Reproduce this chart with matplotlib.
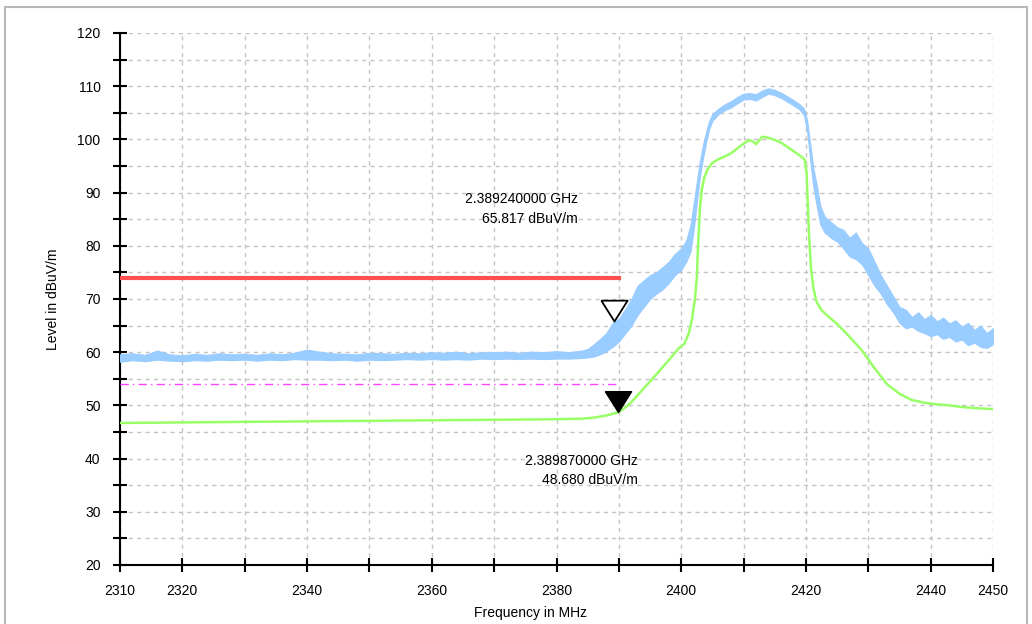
import numpy as np
import matplotlib.pyplot as plt
from matplotlib.patches import Rectangle
from matplotlib.ticker import MultipleLocator, FuncFormatter

plt.rcParams['font.family'] = ['Liberation Sans', 'DejaVu Sans']

# blue trace (peak detector) - noise band: freq, low edge, high edge
blue_freq = [2310, 2312, 2314, 2316, 2318, 2320, 2322, 2324, 2326, 2328, 2330, 2332, 2334,
             2336, 2338, 2340, 2342, 2344, 2346, 2348, 2350, 2352, 2354, 2356, 2358, 2360,
             2362, 2364, 2366, 2368, 2370, 2372, 2374, 2376, 2378, 2380, 2382, 2384, 2385,
             2386, 2387, 2388, 2389, 2390, 2391, 2392, 2393, 2394, 2395, 2396, 2397, 2398,
             2399, 2400, 2400.8, 2401.5, 2402, 2402.5, 2403, 2403.5, 2404, 2404.5, 2405,
             2406, 2407, 2408, 2409, 2410, 2411, 2412, 2413, 2414, 2415, 2416, 2417, 2418,
             2419, 2419.7, 2420.2, 2420.7, 2421.2, 2421.8, 2422.3, 2423, 2424, 2425, 2426,
             2427, 2428, 2429, 2430, 2431, 2432, 2433, 2434, 2435, 2436, 2437, 2438, 2439,
             2440, 2441, 2442, 2443, 2444, 2445, 2446, 2447, 2448, 2449, 2450]
blue_lo = [58.2, 58.5, 58.3, 58.6, 58.4, 58.3, 58.5, 58.4, 58.6, 58.5, 58.6, 58.4, 58.6,
           58.5, 58.7, 58.6, 58.6, 58.5, 58.6, 58.4, 58.6, 58.5, 58.6, 58.7, 58.6, 58.7,
           58.6, 58.7, 58.6, 58.8, 58.7, 58.8, 58.7, 58.8, 58.7, 58.8, 58.8, 58.9, 59.0,
           59.2, 59.6, 60.2, 61.0, 62.0, 63.5, 65.0, 67.0, 68.5, 70.0, 71.0, 71.8, 73.0,
           74.5, 75.5, 77.0, 79.0, 83.0, 88.0, 93.0, 96.5, 99.5, 102.0, 103.5,
           104.8, 105.5, 106.0, 106.8, 107.5, 107.6, 107.3, 108.0, 108.6, 108.3, 107.8, 107.1, 106.4,
           105.6, 104.5, 101.5, 96.0, 91.0, 87.0, 84.0, 82.5, 81.5, 80.8, 79.5,
           78.0, 77.5, 76.5, 74.5, 72.5, 71.0, 69.0, 67.5, 65.5, 64.5, 64.8, 64.0, 63.6,
           63.0, 63.4, 62.5, 62.9, 62.0, 62.4, 61.3, 61.8, 61.0, 60.8, 61.5]
blue_hi = [59.6, 59.8, 59.5, 60.3, 59.6, 59.4, 59.7, 59.5, 59.8, 59.6, 59.7, 59.5, 59.8,
           59.6, 59.9, 60.5, 60.1, 59.8, 59.7, 59.6, 59.9, 59.8, 59.7, 59.9, 59.8, 60.0,
           59.9, 60.1, 59.8, 60.0, 60.0, 60.1, 59.9, 60.1, 60.0, 60.2, 60.0, 60.3, 60.6,
           61.5, 62.5, 63.6, 65.5, 66.3, 68.0, 70.0, 72.5, 73.5, 74.5, 75.0, 76.0, 77.0,
           78.5, 79.5, 81.0, 84.0, 88.0, 92.0, 96.0, 99.0, 101.5, 103.5, 104.8,
           105.8, 106.6, 107.2, 108.0, 108.6, 108.7, 108.5, 109.2, 109.6, 109.3, 108.8, 108.1, 107.4,
           106.6, 105.8, 103.5, 99.0, 94.5, 91.0, 87.5, 85.5, 84.5, 83.5, 83.0,
           81.5, 82.5, 80.5, 79.5, 77.0, 74.5, 72.5, 70.5, 68.5, 68.0, 66.6, 67.5, 66.2,
           67.0, 65.8, 66.5, 65.4, 66.0, 64.8, 65.5, 64.2, 65.0, 63.6, 64.5]

# green trace (average detector)
green_freq = [2310, 2320, 2330, 2340, 2350, 2360, 2370, 2380, 2384, 2386, 2388, 2389.9, 2391,
              2392, 2394, 2396, 2398, 2399.5, 2400.5, 2401.2, 2401.7, 2402.2, 2402.5, 2402.7,
              2403, 2403.3, 2403.7, 2404.2, 2405, 2406, 2407, 2408, 2409, 2410, 2411, 2411.6,
              2412, 2412.5, 2413, 2414, 2415, 2416, 2417, 2418, 2419, 2419.8, 2420.1, 2420.3,
              2420.5, 2420.8, 2421.2, 2421.7, 2422.5, 2423.5, 2425, 2427, 2429, 2431, 2433,
              2435, 2437, 2439, 2441, 2443, 2445, 2447, 2450]
green_lvl = [46.7, 46.8, 46.9, 47.0, 47.1, 47.2, 47.3, 47.4, 47.5, 47.7, 48.1, 48.7, 49.6,
             50.6, 53.2, 55.8, 58.5, 60.6, 61.6, 63.5, 66.0, 70.0, 74.0, 80.0,
             87.0, 90.5, 92.8, 94.3, 95.6, 96.3, 96.8, 97.4, 98.3, 99.2, 99.9, 99.5,
             99.1, 99.8, 100.5, 100.3, 99.9, 99.4, 98.6, 97.8, 97.0, 96.2, 93.8, 88.0,
             82.0, 76.0, 72.0, 69.5, 67.9, 66.8, 65.3, 62.9, 60.3, 57.0, 54.0,
             52.2, 51.0, 50.5, 50.2, 50.0, 49.7, 49.5, 49.3]

# limit lines
limit_freq = [2310, 2390]
peak_limit = 74
avg_limit = 54

# markers
mk1_freq, mk1_lvl = 2389.24, 65.817
mk2_freq, mk2_lvl = 2389.87, 48.680

x_labels = [2310, 2320, 2340, 2360, 2380, 2400, 2420, 2440, 2450]

fig = plt.figure(figsize=(10.32, 6.24), dpi=100)
fig.patches.append(Rectangle((5 / 1032, -0.05), 1022 / 1032, 1.05 - 7 / 624,
                             transform=fig.transFigure, fill=False,
                             edgecolor='#b8b8b8', lw=1.5))
ax = fig.add_axes([120 / 1032, 59 / 624, 873 / 1032, 532 / 624])

ax.fill_between(blue_freq, blue_lo, blue_hi, color='#99ccff', lw=0.8, zorder=3)
ax.plot(green_freq, green_lvl, color='#99ff66', lw=1.8, zorder=4)
ax.plot(limit_freq, [peak_limit] * 2, color='#ff5050', lw=3, zorder=4)
ax.plot(limit_freq, [avg_limit] * 2, color='#ff44ff', lw=1, ls=(0, (6, 3, 1, 3)), zorder=4)

# triangle markers with the tip on the measured point
tri = [(-0.63, 1.0), (0.63, 1.0), (0, 0), (-0.63, 1.0)]
ax.plot(mk1_freq, mk1_lvl, marker=tri, ms=30, mfc='white', mec='black', mew=1.3,
        ls='none', zorder=5)
ax.plot(mk2_freq, mk2_lvl, marker=tri, ms=30, mfc='black', mec='black', mew=1,
        ls='none', zorder=5)

ax.text(2383.4, 86.9, '%.9f GHz\n%.3f dBuV/m' % (mk1_freq / 1000, mk1_lvl),
        ha='right', va='center', multialignment='right', fontsize=10, linespacing=1.5)
ax.text(2393.1, 37.8, '%.9f GHz\n%.3f dBuV/m' % (mk2_freq / 1000, mk2_lvl),
        ha='right', va='center', multialignment='right', fontsize=10, linespacing=1.5)

ax.set_xlim(2310, 2450)
ax.set_ylim(20, 120)
ax.xaxis.set_major_locator(MultipleLocator(10))
ax.yaxis.set_major_locator(MultipleLocator(5))
ax.xaxis.set_major_formatter(FuncFormatter(
    lambda v, p: '%d' % v if int(round(v)) in x_labels else ''))
ax.yaxis.set_major_formatter(FuncFormatter(
    lambda v, p: '%d' % v if int(round(v)) % 10 == 0 else ''))
ax.tick_params(direction='inout', length=10, width=1.5, labelsize=10, pad=9)

for s in ['top', 'right']:
    ax.spines[s].set_visible(False)
for s in ['left', 'bottom']:
    ax.spines[s].set_linewidth(1.5)

ax.grid(True, color='#c4c4c4', ls=(0, (3, 3)), lw=1)
ax.set_axisbelow(True)

ax.set_xlabel('Frequency in MHz', fontsize=10)
ax.xaxis.set_label_coords((530 - 120) / 873, -41 / 532)
ax.set_ylabel('Level in dBuV/m', fontsize=10)
ax.yaxis.set_label_coords(-60 / 873, 0.5)

fig.savefig('out.png', dpi=100)
